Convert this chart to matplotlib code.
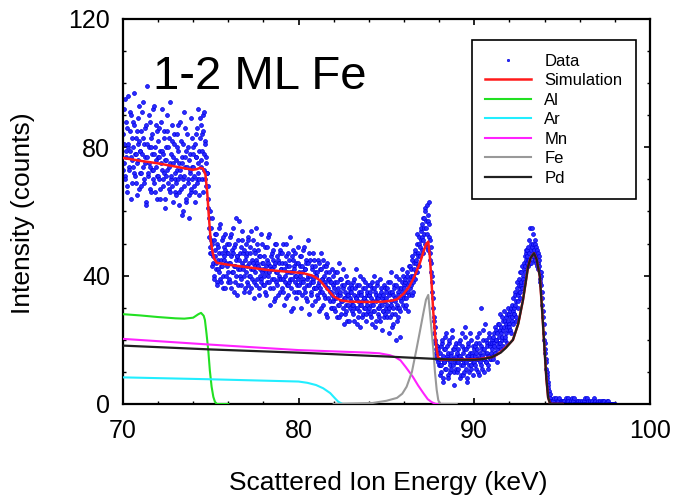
import numpy as np
import matplotlib
matplotlib.use('Agg')
import matplotlib.pyplot as plt
from matplotlib.ticker import MultipleLocator

plt.rcParams['font.family'] = ['Liberation Sans', 'DejaVu Sans']

# measured spectrum, channels every 0.02 keV from 70 keV.
# counts_a = even channels (70.00, 70.04, ...), counts_b = odd channels (70.02, 70.06, ...)
# one row per keV
counts_a = [
    84, 92, 75, 71, 88, 79, 66, 96, 81, 73, 85, 77, 90, 69, 80, 74, 87, 71, 83, 78, 65, 89, 76, 82, 72,
    79, 68, 91, 74, 83, 70, 86, 77, 62, 99, 81, 72, 75, 88, 67, 80, 73, 84, 70, 78, 93, 66, 76, 85, 71,
    82, 70, 77, 64, 88, 73, 79, 68, 85, 72, 61, 80, 76, 90, 69, 74, 83, 66, 78, 71, 87, 63, 75, 81, 70,
    76, 65, 84, 70, 79, 62, 73, 88, 67, 75, 81, 60, 71, 77, 86, 64, 74, 69, 80, 58, 72, 78, 66, 83, 70,
    74, 68, 81, 63, 77, 70, 86, 72, 79, 65, 89, 76, 84, 70, 90, 78, 73, 81, 68, 75, 72, 64, 58, 52, 49,
    55, 47, 50, 44, 51, 39, 46, 42, 53, 37, 45, 49, 41, 56, 43, 38, 47, 52, 40, 45, 36, 48, 44, 50, 41,
    47, 39, 52, 44, 36, 48, 41, 55, 43, 38, 50, 45, 34, 46, 42, 57, 40, 47, 37, 44, 51, 42, 35, 48, 45,
    46, 38, 43, 51, 40, 35, 47, 42, 54, 39, 44, 33, 48, 41, 45, 37, 50, 43, 36, 46, 40, 53, 38, 44, 42,
    44, 37, 49, 41, 34, 45, 40, 52, 38, 43, 31, 46, 42, 36, 48, 39, 44, 33, 50, 41, 37, 45, 40, 35, 47,
    42, 36, 47, 39, 31, 44, 40, 50, 37, 43, 34, 45, 38, 41, 29, 46, 39, 48, 35, 42, 40, 33, 44, 37, 49,
    41, 35, 46, 38, 30, 43, 39, 48, 36, 42, 33, 44, 37, 51, 40, 28, 45, 38, 34, 43, 39, 47, 36, 41, 32,
    40, 34, 45, 37, 29, 42, 36, 47, 35, 39, 31, 43, 38, 33, 41, 27, 44, 36, 39, 32, 38, 35, 42, 30, 37,
    36, 30, 41, 33, 27, 38, 34, 44, 31, 35, 28, 39, 32, 36, 25, 37, 33, 40, 29, 34, 31, 38, 26, 35, 32,
    35, 29, 38, 31, 26, 36, 33, 42, 30, 34, 27, 37, 31, 24, 35, 32, 39, 28, 33, 30, 36, 26, 34, 31, 37,
    34, 28, 37, 31, 25, 36, 32, 40, 29, 35, 26, 33, 38, 30, 27, 34, 31, 36, 23, 33, 29, 37, 32, 28, 35,
    33, 27, 38, 30, 22, 35, 31, 41, 28, 34, 25, 36, 32, 20, 37, 30, 35, 27, 39, 33, 29, 36, 42, 31, 34,
    36, 30, 39, 33, 41, 35, 29, 38, 43, 36, 40, 34, 45, 38, 42, 47, 39, 44, 50, 41, 46, 52, 43, 49, 55,
    48, 56, 51, 58, 53, 60, 55, 49, 62, 57, 63, 52, 47, 44, 41, 35, 30, 27, 22, 19, 17, 15, 18, 13, 16,
    14, 9, 18, 12, 20, 15, 7, 13, 17, 11, 22, 14, 16, 8, 19, 13, 10, 15, 21, 12, 17, 6, 14, 18, 11,
    16, 10, 13, 19, 8, 15, 12, 22, 14, 9, 17, 13, 24, 11, 15, 7, 18, 14, 10, 16, 20, 12, 15, 9, 17,
    13, 18, 11, 16, 21, 14, 9, 19, 15, 12, 30, 17, 14, 23, 10, 16, 20, 13, 18, 11, 15, 22, 14, 19, 16,
    17, 21, 14, 19, 24, 16, 20, 13, 22, 18, 25, 19, 23, 17, 27, 21, 18, 24, 20, 26, 22, 19, 28, 23, 25,
    24, 29, 22, 27, 31, 25, 30, 28, 34, 27, 32, 36, 30, 35, 39, 33, 37, 41, 36, 40, 44, 38, 43, 47, 45,
    46, 43, 49, 45, 55, 48, 44, 55, 50, 46, 48, 51, 45, 49, 43, 47, 44, 46, 41, 38, 40, 35, 31, 27, 22,
    19, 16, 13, 10, 8, 6, 4, 3, 2, 1, 0, 1, 0, 0, 2, 0, 0, 1, 0, 0, 0, 2, 0, 1, 0,
    0, 0, 1, 0, 0, 2, 0, 0, 0, 1, 0, 0, 0, 0, 2, 0, 1, 0, 0, 0, 0, 0, 1, 0, 0,
    0, 0, 0, 1, 0, 0, 0, 2, 0, 0, 0, 0, 1, 0, 0, 0, 0, 0, 1, 0, 2, 0, 0, 0, 0,
    0, 1, 0, 0, 0, 0, 1, 0, 0, 0, 1, 0, 0, 0, 0, 1, 0, 0, 0, 0, 0, 0, 0, 0, 0,
]
counts_b = [
    73, 81, 95, 70, 77, 86, 68, 80, 74, 91, 79, 64, 83, 76, 88, 72, 97, 78, 69, 85, 75, 81, 93, 67, 79,
    85, 72, 78, 94, 69, 81, 75, 63, 87, 77, 71, 90, 80, 74, 66, 83, 78, 92, 73, 69, 80, 87, 74, 64, 77,
    71, 86, 79, 67, 75, 92, 70, 78, 83, 64, 76, 71, 85, 73, 80, 67, 94, 75, 70, 82, 68, 77, 84, 72, 66,
    69, 80, 73, 87, 66, 75, 71, 82, 59, 77, 70, 91, 68, 74, 63, 79, 84, 70, 65, 76, 73, 89, 67, 74, 78,
    80, 71, 66, 77, 84, 69, 75, 92, 70, 83, 74, 87, 79, 66, 85, 91, 82, 70, 77, 72, 68, 61, 55, 60, 47,
    51, 43, 58, 46, 40, 48, 53, 44, 38, 50, 42, 47, 55, 39, 45, 51, 43, 36, 49, 46, 53, 40, 47, 43, 38,
    44, 50, 38, 46, 53, 41, 47, 35, 49, 43, 58, 40, 46, 51, 37, 45, 42, 49, 39, 54, 43, 47, 40, 36, 50,
    41, 47, 52, 37, 44, 40, 49, 36, 45, 51, 42, 38, 47, 43, 55, 39, 44, 48, 34, 42, 46, 39, 50, 41, 37,
    40, 46, 35, 43, 49, 38, 44, 41, 53, 36, 42, 47, 39, 45, 32, 43, 50, 38, 41, 46, 34, 44, 39, 48, 42,
    39, 44, 50, 35, 42, 38, 46, 33, 41, 47, 37, 43, 39, 52, 36, 41, 45, 30, 43, 38, 47, 40, 35, 44, 39,
    37, 43, 40, 46, 34, 41, 38, 49, 35, 42, 45, 32, 39, 44, 37, 47, 40, 35, 42, 31, 38, 45, 36, 43, 40,
    36, 41, 33, 44, 38, 35, 42, 30, 39, 45, 34, 40, 37, 28, 43, 36, 39, 33, 41, 35, 30, 38, 34, 40, 32,
    33, 38, 29, 35, 41, 31, 36, 27, 34, 39, 32, 37, 30, 42, 33, 28, 35, 31, 38, 26, 34, 36, 30, 33, 37,
    31, 36, 28, 34, 39, 30, 33, 25, 37, 32, 29, 35, 40, 31, 34, 27, 36, 30, 33, 38, 28, 32, 35, 29, 34,
    30, 35, 27, 33, 38, 31, 29, 36, 24, 34, 32, 37, 28, 33, 30, 39, 26, 35, 31, 29, 34, 27, 36, 32, 30,
    31, 36, 29, 34, 27, 38, 32, 24, 35, 30, 37, 28, 33, 40, 31, 26, 34, 30, 36, 21, 32, 38, 35, 40, 37,
    33, 38, 35, 31, 40, 37, 43, 34, 39, 42, 37, 46, 40, 35, 44, 48, 41, 45, 53, 47, 43, 50, 46, 54, 51,
    52, 58, 47, 55, 61, 50, 57, 53, 59, 48, 56, 51, 45, 49, 38, 40, 33, 26, 24, 20, 16, 18, 14, 17, 12,
    12, 16, 10, 19, 14, 8, 17, 13, 21, 11, 15, 18, 9, 14, 20, 12, 16, 11, 23, 14, 10, 17, 13, 19, 15,
    13, 17, 11, 15, 20, 9, 14, 18, 12, 16, 10, 21, 13, 17, 8, 15, 19, 12, 14, 22, 11, 16, 13, 18, 14,
    15, 12, 19, 14, 17, 10, 22, 16, 13, 18, 15, 11, 20, 14, 17, 25, 13, 19, 16, 12, 21, 15, 18, 14, 20,
    19, 15, 22, 18, 16, 23, 20, 17, 25, 21, 19, 28, 22, 24, 20, 26, 23, 29, 21, 25, 27, 24, 30, 26, 28,
    27, 23, 30, 26, 33, 29, 28, 35, 31, 26, 38, 34, 32, 37, 35, 41, 38, 36, 43, 39, 42, 46, 41, 48, 44,
    48, 45, 47, 51, 44, 50, 46, 49, 53, 47, 45, 50, 44, 48, 46, 42, 45, 43, 39, 41, 37, 33, 29, 25, 20,
    17, 14, 11, 9, 7, 5, 3, 2, 1, 1, 0, 0, 1, 0, 0, 0, 2, 0, 0, 1, 0, 0, 0, 0, 1,
    0, 1, 0, 0, 0, 0, 1, 0, 2, 0, 0, 0, 1, 0, 0, 0, 0, 2, 0, 0, 1, 0, 0, 0, 0,
    1, 0, 0, 0, 0, 1, 0, 0, 0, 0, 2, 0, 0, 0, 1, 0, 0, 0, 0, 0, 0, 1, 0, 0, 0,
    0, 0, 0, 1, 0, 0, 0, 0, 1, 0, 0, 0, 0, 0, 1, 0, 0, 0, 0, 0, 0, 0, 0, 0, 0,
]
E0 = 70.0
dE = 0.02

# simulated spectrum and element contributions (keV, counts)
sim_E = [70, 71, 72, 73, 73.98, 74.2, 74.4, 74.55, 74.7, 74.8, 74.9, 75.0, 75.1, 75.2, 75.35,
         76, 77, 78.2, 79.2, 80.25, 80.8, 81.2, 81.6, 82.0, 82.4, 82.9, 84.0, 84.8, 85.3, 85.6,
         86.0, 86.3, 86.6, 86.9, 87.1, 87.25, 87.38, 87.47, 87.57, 87.66, 87.76, 87.85, 87.93,
         88.05, 89, 90.3, 91.0, 91.27, 91.5, 91.8, 92.2, 92.5, 92.77, 92.9, 93.06, 93.2, 93.4,
         93.55, 93.73, 93.85, 94.0, 94.1, 94.2, 94.3, 94.4, 95]
sim_I = [76.7, 75.8, 75.0, 74.0, 73.0, 73.2, 73.6, 73.4, 71.5, 66, 58, 51, 47.5, 45.2, 44,
         43.4, 42.7, 41.8, 41.3, 40.8, 40.0, 38.6, 36, 33.5, 32.3, 31.9, 31.8, 31.9, 32.2, 32.6,
         34.5, 36.6, 39.8, 43.9, 47.3, 49.8, 50.6, 46, 37.7, 29, 22, 17.5, 14.7,
         13.9, 13.8, 14.0, 14.6, 15.3, 16.2, 17.7, 20, 25, 32.4, 37, 42.8, 45.5, 47,
         45, 39.7, 30, 16.8, 8, 2, 0.3, 0, 0]

al_E = [70, 71, 72, 73, 73.5, 74.0, 74.3, 74.45, 74.6, 74.67, 74.76, 74.86, 74.95, 75.05,
        75.15, 75.24, 75.35, 76]
al_I = [28.0, 27.6, 27.1, 26.7, 26.6, 26.9, 28.0, 28.4, 27.5, 26.2, 22, 16.8, 10.5, 5.4,
        2.2, 0.7, 0, 0]

ar_E = [70, 75, 80, 80.5, 81.0, 81.4, 81.8, 82.0, 82.26, 82.5, 83]
ar_I = [8.3, 7.7, 7.0, 6.6, 5.9, 4.9, 3.4, 2.2, 0.7, 0, 0]

mn_E = [70, 75, 80, 84, 84.6, 85.2, 85.5, 85.8, 86.1, 86.5, 86.8, 87.1, 87.35, 87.57, 87.8, 88.2]
mn_I = [20.3, 18.5, 16.8, 16.0, 15.8, 15.2, 14.6, 13.6, 11.5, 8.5, 5.8, 3.4, 1.5, 0.6, 0, 0]

fe_E = [82, 84.2, 85.0, 85.6, 85.9, 86.15, 86.45, 86.7, 86.9, 87.1, 87.25, 87.38, 87.5,
        87.6, 87.67, 87.76, 87.86, 87.95, 88.05, 89]
fe_I = [0, 0.3, 1.0, 1.9, 3.2, 5.4, 10, 16.8, 22.5, 28.3, 32.5, 34, 27,
        21, 16.8, 10, 4.4, 1.2, 0, 0]

pd_E = [70, 75, 80, 85, 88, 89, 90, 90.5, 91.0, 91.5, 91.8, 92.2, 92.5, 92.77, 92.9, 93.06,
        93.2, 93.4, 93.55, 93.73, 93.85, 94.0, 94.1, 94.2, 94.3, 94.4, 95]
pd_I = [18.2, 17.0, 16.0, 14.8, 14.0, 13.8, 13.8, 14.0, 14.6, 16.0, 17.5, 20, 25, 32.4, 37, 42.8,
        45.5, 47, 45, 39.7, 30, 16.8, 8, 2, 0.3, 0, 0]

# interleave the two halves into one spectrum
counts = np.empty(len(counts_a) + len(counts_b))
counts[0::2] = counts_a
counts[1::2] = counts_b
energy = E0 + dE * np.arange(len(counts))

fig = plt.figure(figsize=(6.75, 4.96), dpi=100)
ax = fig.add_axes([0.182, 0.1855, 0.781, 0.7762])

ax.plot(energy, counts, 'o', ms=2.8, mfc='#2a2aff', mec='#0000e0', mew=0.5,
        label='Data', zorder=2)
ax.plot(sim_E, sim_I, color='#ff1a1a', lw=1.8, label='Simulation', zorder=3)
ax.plot(al_E, al_I, color='#22e022', lw=1.5, label='Al', zorder=3)
ax.plot(ar_E, ar_I, color='#22eeff', lw=1.5, label='Ar', zorder=3)
ax.plot(mn_E, mn_I, color='#ff22ff', lw=1.5, label='Mn', zorder=3)
ax.plot(fe_E, fe_I, color='#999999', lw=1.5, label='Fe', zorder=3)
ax.plot(pd_E, pd_I, color='#202020', lw=1.6, label='Pd', zorder=4)

ax.set_xlim(70, 100)
ax.set_ylim(0, 120)
ax.xaxis.set_major_locator(MultipleLocator(10))
ax.xaxis.set_minor_locator(MultipleLocator(2))
ax.yaxis.set_major_locator(MultipleLocator(40))
ax.yaxis.set_minor_locator(MultipleLocator(10))
ax.tick_params(which='both', direction='in', top=True, right=True, labelsize=18)
ax.tick_params(which='major', length=4, width=1.2)
ax.tick_params(which='minor', length=2, width=1.0)
ax.tick_params(axis='x', pad=11)
ax.tick_params(axis='y', pad=9)
for s in ax.spines.values():
    s.set_linewidth(1.6)

ax.text(71.7, 98.3, '1-2 ML Fe', fontsize=34, va='baseline', ha='left')

fig.text(388 / 675, 1 - 483 / 496, 'Scattered Ion Energy (keV)', fontsize=19,
         ha='center', va='center')
fig.text(23 / 675, 1 - 213.5 / 496, 'Intensity (counts)', fontsize=19,
         rotation=90, ha='center', va='center')

leg = ax.legend(loc='upper right', bbox_to_anchor=(0.973, 0.945), borderaxespad=0,
                fontsize=12, fancybox=False, framealpha=1, edgecolor='black',
                handlelength=2.75, handletextpad=0.8, labelspacing=0.27,
                borderpad=0.8, markerscale=0.6)
leg.get_frame().set_linewidth(1.2)

fig.savefig('out.png', dpi=100)
